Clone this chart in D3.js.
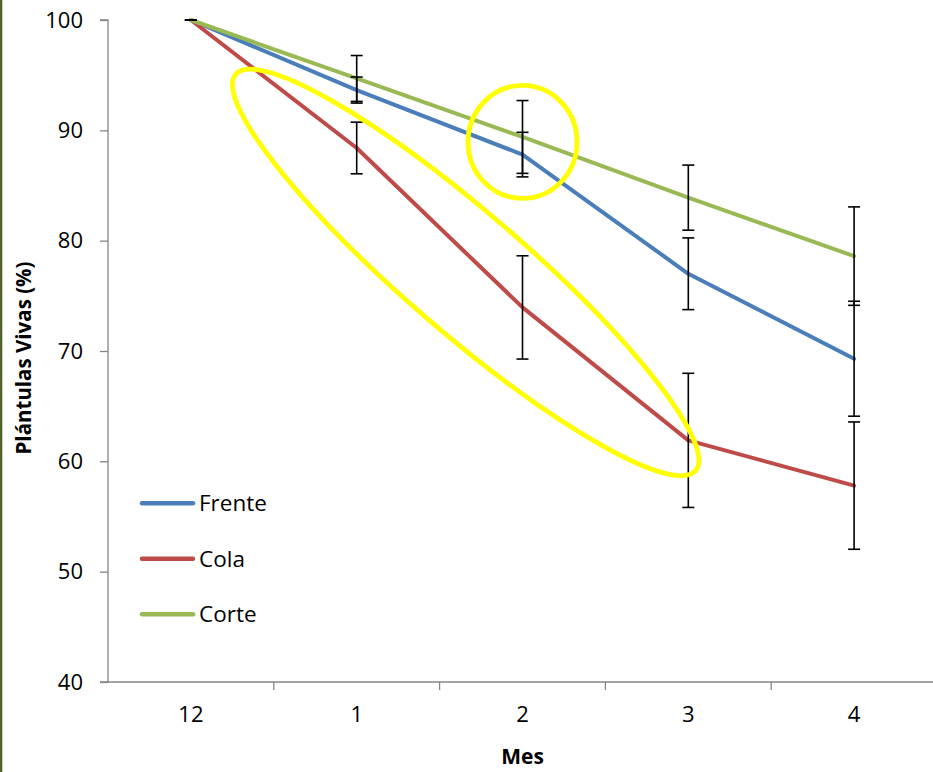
<!DOCTYPE html>
<html>
<head>
<meta charset="utf-8">
<script src="https://cdn.jsdelivr.net/npm/d3@7"></script>
<style>
	body { margin: 0; background: #fff; }
	text { font-family: "Open Sans", sans-serif; fill: #000; }
</style>
</head>
<body>
<div id="chart"></div>
<script>
var months = ["12", "1", "2", "3", "4"];
var seriesNames = ["Frente", "Cola", "Corte"];
var frente = [100, 93.65, 87.8, 77.0, 69.3];
var cola = [100, 88.4, 73.95, 61.9, 57.8];
var corte = [100, 94.7, 89.4, 83.9, 78.6];
var frenteErr = [0, 1.18, 2.02, 3.25, 5.21];
var colaErr = [0, 2.34, 4.68, 6.08, 5.77];
var corteErr = [0, 2.08, 3.3, 2.95, 4.46];
var yTicks = [40, 50, 60, 70, 80, 90, 100];
var colors = ["#4a7ebb", "#be4b48", "#98b954"];

var ChartPage = function () {

	var width = 933, height = 772;
	var left = 108, top = 20, bottom = 682, band = 165.8;

	var svg = d3.select("#chart")
		.append("svg")
		.attr("width", width)
		.attr("height", height);

	// thin border strip on the left edge
	svg.append("rect")
		.attr("x", 0).attr("y", 0)
		.attr("width", 2.3).attr("height", height)
		.attr("fill", "#4f6228");

	var x = d3.scaleBand().domain(months).range([left, left + band * months.length]).padding(0);
	var y = d3.scaleLinear().domain([40, 100]).range([bottom, top]);
	var cx = function (m) { return x(m) + x.bandwidth() / 2; };
	// index scale for annotation placement
	var xi = d3.scaleLinear().domain([0, months.length - 1]).range([cx(months[0]), cx(months[months.length - 1])]);

	var yAxis = d3.axisLeft(y).tickValues(yTicks).tickSize(8).tickPadding(17);
	var gy = svg.append("g").attr("transform", "translate(" + left + ",0)").call(yAxis);
	gy.selectAll("path, line").attr("stroke", "#868686").attr("stroke-width", 1.3);
	gy.select(".domain").attr("d", "M-8," + top + "H0V" + bottom + "H-8");
	gy.selectAll("text").style("font-size", "22px").attr("font-family", null);

	var xAxis = d3.axisBottom(x).tickSize(0).tickPadding(24);
	var gx = svg.append("g").attr("transform", "translate(0," + bottom + ")").call(xAxis);
	gx.select(".domain").attr("d", "M" + left + ",0H" + width).attr("stroke", "#868686").attr("stroke-width", 1.3);
	gx.selectAll("text").style("font-size", "22px").attr("font-family", null);
	gx.selectAll(".sep")
		.data(months.slice(1))
		.enter()
		.append("line")
		.attr("x1", function (d) { return x(d); })
		.attr("x2", function (d) { return x(d); })
		.attr("y1", 0).attr("y2", 8)
		.attr("stroke", "#868686").attr("stroke-width", 1.3);

	var data = [frente, cola, corte];
	var errs = [frenteErr, colaErr, corteErr];

	var line = d3.line()
		.x(function (d, i) { return cx(months[i]); })
		.y(function (d) { return y(d); });

	svg.append("g")
		.selectAll("path")
		.data(data)
		.enter()
		.append("path")
		.attr("d", line)
		.attr("fill", "none")
		.attr("stroke", function (d, i) { return colors[i]; })
		.attr("stroke-width", 4)
		.attr("stroke-linejoin", "round")
		.attr("stroke-linecap", "round");

	// error bars
	var bars = [];
	data.forEach(function (s, k) {
		s.forEach(function (v, i) {
			bars.push({ m: months[i], v: v, e: errs[k][i] });
		});
	});
	var eb = svg.append("g").attr("stroke", "#000").attr("stroke-width", 1.6);
	eb.selectAll(".stem")
		.data(bars)
		.enter()
		.append("line")
		.attr("x1", function (d) { return cx(d.m); })
		.attr("x2", function (d) { return cx(d.m); })
		.attr("y1", function (d) { return y(d.v + d.e); })
		.attr("y2", function (d) { return y(d.v - d.e); });
	eb.selectAll(".cap")
		.data(bars.concat(bars.map(function (d) { return { m: d.m, v: d.v, e: -d.e }; })))
		.enter()
		.append("line")
		.attr("x1", function (d) { return cx(d.m) - 6; })
		.attr("x2", function (d) { return cx(d.m) + 6; })
		.attr("y1", function (d) { return y(d.v + d.e); })
		.attr("y2", function (d) { return y(d.v + d.e); });

	// yellow hand-drawn marks
	svg.append("ellipse")
		.attr("transform", "translate(" + xi(1.657) + "," + y(77.12) + ") rotate(40.76)")
		.attr("rx", 303.5).attr("ry", 60)
		.attr("fill", "none").attr("stroke", "#ffff00").attr("stroke-width", 4.8);
	svg.append("ellipse")
		.attr("cx", xi(2)).attr("cy", y(88.95))
		.attr("rx", 54.5).attr("ry", 56.5)
		.attr("fill", "none").attr("stroke", "#ffff00").attr("stroke-width", 4.8);

	// legend
	var lg = svg.append("g")
		.selectAll("g")
		.data(seriesNames)
		.enter()
		.append("g")
		.attr("transform", function (d, i) { return "translate(140," + (503.3 + i * 55.5) + ")"; });
	lg.append("line")
		.attr("x1", 2).attr("x2", 53).attr("y1", 0).attr("y2", 0)
		.attr("stroke", function (d, i) { return colors[i]; })
		.attr("stroke-width", 4.5)
		.attr("stroke-linecap", "round");
	lg.append("text")
		.attr("x", 59).attr("y", 0).attr("dy", "0.35em")
		.style("font-size", "22.5px")
		.text(function (d) { return d; });

	svg.append("text")
		.attr("transform", "translate(31," + ((top + bottom) / 2 + 7) + ") rotate(-90)")
		.attr("text-anchor", "middle")
		.style("font-size", "20.5px").style("font-weight", "bold")
		.text("Plántulas Vivas (%)");
	svg.append("text")
		.attr("x", cx("2")).attr("y", 764)
		.attr("text-anchor", "middle")
		.style("font-size", "21px").style("font-weight", "bold")
		.text("Mes");
}();
</script>
</body>
</html>
